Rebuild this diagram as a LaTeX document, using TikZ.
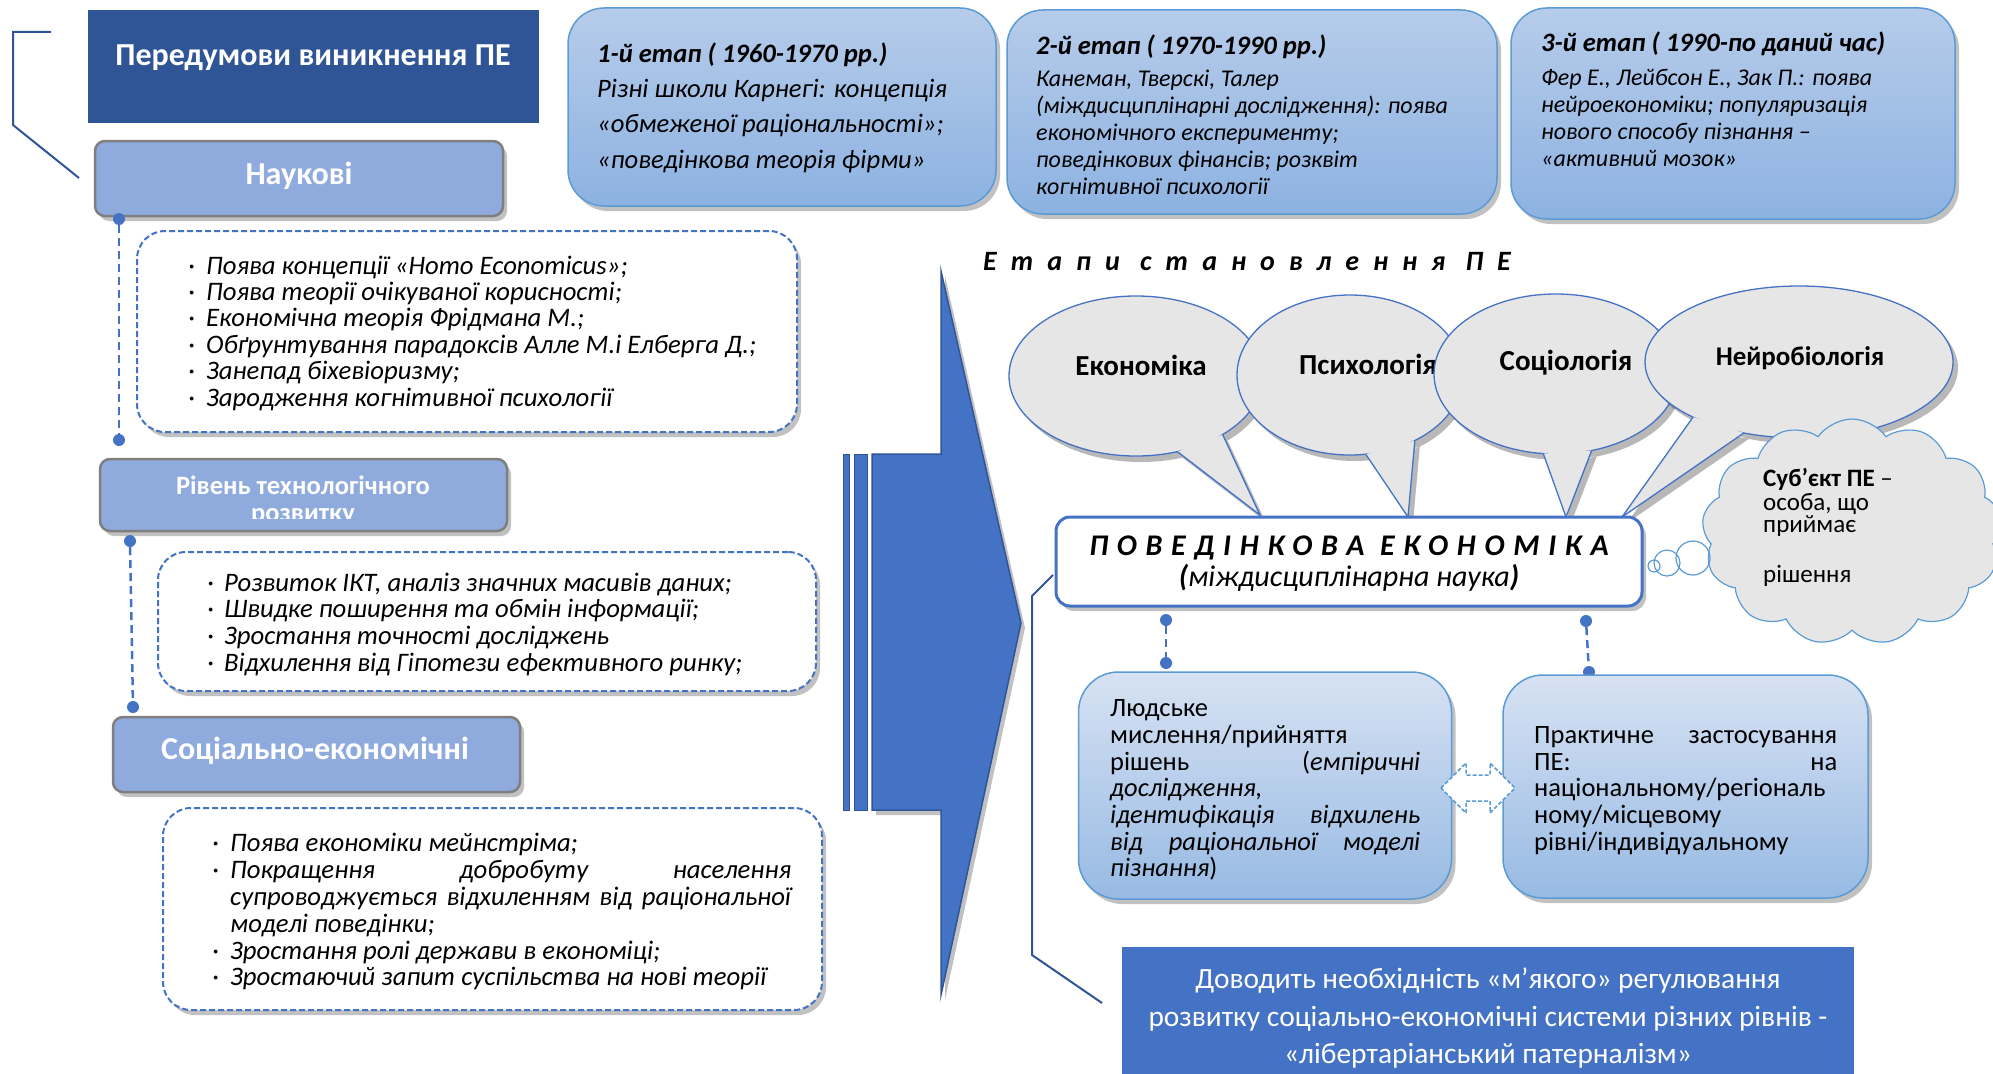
\documentclass[tikz,border=0pt]{standalone}
\usepackage{fontspec}
\setmainfont{Carlito}
\usetikzlibrary{shapes.symbols,shadows,calc}
\definecolor{dblue}{HTML}{2F5597}
\definecolor{mblue}{HTML}{4472C4}
\definecolor{catfill}{HTML}{8FAADC}
\definecolor{catline}{HTML}{7F7F7F}
\definecolor{sline}{HTML}{5B9BD5}
\definecolor{sttop}{HTML}{B6CCEA}
\definecolor{stbot}{HTML}{8DB2E1}
\definecolor{lotop}{HTML}{D7E2F3}
\definecolor{lobot}{HTML}{97BAE3}
\definecolor{bubfill}{HTML}{E7E6E6}
\newcommand\fs[2]{\fontsize{#1}{#2}\selectfont}
% speech bubble: cx cy rx ry a1 a2 tipx tipy
\newcommand\spbubble[8]{%
  \begin{scope}[shift={(5,6)}]
    \fill[black,opacity=.28] (#1,#2) ellipse [x radius=#3, y radius=#4]
      ($(#1,#2)+(#5:#3 and #4)$) -- (#7,#8) -- ($(#1,#2)+(#6:#3 and #4)$) -- cycle;
  \end{scope}
  \fill[bubfill] (#1,#2) ellipse [x radius=#3, y radius=#4];
  \draw[mblue,line width=1.3pt] (#1,#2) ellipse [x radius=#3, y radius=#4];
  \fill[bubfill] ($(#1,#2)+(#5:#3 and #4)$) -- (#7,#8) -- ($(#1,#2)+(#6:#3 and #4)$) -- cycle;
  \draw[mblue,line width=1.3pt,line join=miter] ($(#1,#2)+(#5:#3 and #4)$) -- (#7,#8) -- ($(#1,#2)+(#6:#3 and #4)$);
}
\begin{document}
\begin{tikzpicture}[x=1pt,y=-1pt,
  shadowed/.style={drop shadow={shadow xshift=4pt,shadow yshift=-5pt,opacity=.35,fill=black!70}},
  catbox/.style={draw=catline,line width=2.5pt,fill=catfill,rounded corners=10pt,shadowed,inner sep=0},
  listbox/.style={draw=mblue,dash pattern=on 6pt off 3pt,line width=2pt,fill=white,rounded corners=28pt,shadowed,inner sep=0},
  stagebox/.style={draw=sline,line width=1.5pt,top color=sttop,bottom color=stbot,rounded corners=36pt,shadowed,inner sep=0},
  lowbox/.style={draw=sline,line width=1.5pt,top color=lotop,bottom color=lobot,rounded corners=40pt,shadowed,inner sep=0},
  listtxt/.style={font=\fs{26.7}{27}\itshape,anchor=base west,inner sep=0},
  cattxt/.style={font=\fs{32}{34}\bfseries,text=white,inner sep=0},
  sttitle/.style={font=\fs{26.6}{28}\bfseries\itshape,anchor=base west,inner sep=0},
  sttxt/.style={font=\fs{26.6}{28}\itshape,anchor=base west,inner sep=0},
  sttxtsm/.style={font=\fs{24}{26}\itshape,anchor=base west,inner sep=0},
  bubtxt/.style={font=\fs{29}{31}\bfseries,inner sep=0},
  lowtxt/.style={font=\fs{26.5}{27}\selectfont,anchor=base west,inner sep=0},
  cltxt/.style={font=\fs{25}{27},anchor=base west,inner sep=0},
  bottxt/.style={font=\fs{29.4}{31},text=white,anchor=base,inner sep=0},
  dot/.style={circle,fill=mblue,inner sep=0,minimum size=12pt},
  conn/.style={mblue,line width=2.5pt,dash pattern=on 8pt off 5pt},
  brk/.style={dblue,line width=2pt}
]
\useasboundingbox (0,0) rectangle (1993,1073);

% ---------- top-left title and bracket
\coordinate (b1) at (51,32);
\coordinate (b2) at (13,32);
\coordinate (b3) at (13,125);
\coordinate (b4) at (79,178);
\draw[brk] (b1) -- (b2) -- (b3) -- (b4);
\node[fill=dblue,minimum width=451pt,minimum height=113pt,inner sep=0] (title) at (313.5,66.5) {};
\node[font=\fs{32}{34}\bfseries,text=white,inner sep=0] (titletxt) at (313,58) {Передумови виникнення ПЕ};

% ---------- category 1
\node[catbox,minimum width=408pt,minimum height=75pt] (cat1) at (299,178.5) {};
\node[cattxt] (cat1t) at (299,176) {Наукові};
\node[listbox,minimum width=660pt,minimum height=201pt] (list1) at (467,331.5) {};
\foreach \t [count=\i] in {{Поява концепції «Homo Economicus»;},{Поява теорії очікуваної корисності;},{Економічна теорія Фрідмана М.;},{Обґрунтування парадоксів Алле М.і Елберга Д.;},{Занепад біхевіоризму;},{Зародження когнітивної психології}}{
  \node[listtxt] (la\i) at (206,{274+26.4*(\i-1)}) {\t};
  \node[listtxt] (lab\i) at (188,{274+26.4*(\i-1)}) {·};
}
\node[dot] (dA1) at (119,219) {};
\node[dot] (dA2) at (119,440) {};
\draw[conn] (dA1) -- (dA2);

% ---------- category 2
\node[catbox,minimum width=407pt,minimum height=72pt] (cat2) at (303.5,495) {};
\begin{scope}
  \clip (103,462) rectangle (504,518);
  \node[font=\fs{26.5}{28}\bfseries,text=white,anchor=base,inner sep=0] (cat2t) at (303,494) {Рівень технологічного};
  \node[font=\fs{26.5}{28}\bfseries,text=white,anchor=base,inner sep=0] (cat2u) at (303,521) {розвитку};
\end{scope}
\node[listbox,minimum width=658pt,minimum height=139pt] (list2) at (487,621.5) {};
\foreach \t [count=\i] in {{Розвиток ІКТ, аналіз значних масивів даних;},{Швидке поширення та обмін інформації;},{Зростання точності досліджень},{Відхилення від Гіпотези ефективного ринку;}}{
  \node[listtxt] (lb\i) at (224,{591+26.7*(\i-1)}) {\t};
  \node[listtxt] (lbb\i) at (207,{591+26.7*(\i-1)}) {·};
}
\node[dot] (dB1) at (130,541) {};
\node[dot] (dB2) at (133,707) {};
\draw[conn] (dB1) -- (dB2);

% ---------- category 3
\node[catbox,minimum width=407pt,minimum height=75pt] (cat3) at (316.5,754.5) {};
\node[cattxt] (cat3t) at (315,751) {Соціально-економічні};
\node[listbox,minimum width=659pt,minimum height=202pt] (list3) at (492.5,909) {};
\node[listtxt] (lc1) at (230,851) {Поява економіки мейнстріма;};
\node[listtxt] (lc2) at (230,878) {\hbox to 561pt{Покращення\hfill добробуту\hfill населення}};
\node[listtxt] (lc3) at (230,905) {\hbox to 561pt{супроводжується\hfill відхиленням\hfill від\hfill раціональної}};
\node[listtxt] (lc4) at (230,932) {моделі поведінки;};
\node[listtxt] (lc5) at (230,959) {Зростання ролі держави в економіці;};
\node[listtxt] (lc6) at (230,985) {Зростаючий запит суспільства на нові теорії};
\foreach \y [count=\i] in {851,878,959,985}{
  \node[listtxt] (lcb\i) at (212,\y) {·};
}

% ---------- big arrow
\fill[mblue,draw=dblue,line width=1.5pt,shadowed] (872,454) -- (941,454) -- (941,271) -- (1021,623) -- (941,995) -- (941,810) -- (872,810) -- cycle;
\filldraw[mblue,draw=dblue,line width=1pt] (843,454) rectangle (849,810);
\filldraw[mblue,draw=dblue,line width=1pt] (854,454) rectangle (867,810);

% ---------- stage boxes
\node[stagebox,minimum width=428pt,minimum height=198pt] (st1) at (782,107) {};
\node[sttitle] (st1t) at (597,63) {1-й етап ( 1960-1970 рр.)};
\foreach \t [count=\i] in {{Різні школи Карнегі: концепція},{«обмеженої раціональності»;},{«поведінкова теорія фірми»}}{
  \node[sttxt] (st1l\i) at (597,{97+35.5*(\i-1)}) {\t};
}
\node[stagebox,minimum width=490pt,minimum height=204pt] (st2) at (1252,112) {};
\node[sttitle] (st2t) at (1036,55) {2-й етап ( 1970-1990 рр.)};
\foreach \t [count=\i] in {{Канеман, Тверскі, Талер},{(міждисциплінарні дослідження): поява},{економічного експерименту;},{поведінкових фінансів; розквіт},{когнітивної психології}}{
  \node[sttxtsm] (st2l\i) at (1036,{86+27*(\i-1)}) {\t};
}
\node[stagebox,minimum width=444pt,minimum height=211pt] (st3) at (1733,113.5) {};
\node[sttitle] (st3t) at (1541,52) {3-й етап ( 1990-по даний час)};
\foreach \t [count=\i] in {{Фер Е., Лейбсон Е., Зак П.: поява},{нейроекономіки; популяризація},{нового способу пізнання –},{«активний мозок»}}{
  \node[sttxtsm] (st3l\i) at (1541,{85+27*(\i-1)}) {\t};
}

% ---------- heading
\node[font=\fs{28}{30}\bfseries\itshape\addfontfeature{LetterSpace=50},anchor=base west,inner sep=0] (etapy) at (983,270) {Етапи становлення ПЕ};

% ---------- speech bubbles
\spbubble{1136}{376}{127}{80}{71}{47}{1260}{515}
\node[bubtxt] (bub1) at (1141,365) {Економіка};
\spbubble{1350}{375}{113}{80}{82}{55}{1408}{517}
\node[bubtxt] (bub2) at (1368,364) {Психологія};
\spbubble{1556}{374}{122}{80}{96}{73}{1566}{517}
\node[bubtxt] (bub3) at (1566,363) {Соціологія};
\spbubble{1799}{362}{154}{76}{133.5}{111}{1622}{517}
\node[bubtxt,font=\fs{27}{29}\bfseries] (bub4) at (1800,358) {Нейробіологія};

% ---------- thought cloud
\node[cloud,cloud puffs=13,cloud puff arc=110,aspect=1.35,draw=sline,line width=1.2pt,fill=bubfill,minimum width=300pt,minimum height=226pt,inner sep=0] (cloud) at (1852,532) {};
\node[circle,draw=sline,line width=1.2pt,minimum size=34pt,inner sep=0] (tc1) at (1693,558) {};
\node[circle,draw=sline,line width=1.2pt,minimum size=26pt,inner sep=0] (tc2) at (1667,563) {};
\node[circle,draw=sline,line width=1.2pt,minimum size=12pt,inner sep=0] (tc3) at (1654,566) {};
\node[cltxt] (cl1) at (1763,486) {\textbf{Суб’єкт ПЕ} –};
\node[cltxt] (cl2) at (1763,510) {особа, що};
\node[cltxt] (cl3) at (1763,532) {приймає};
\node[cltxt] (cl4) at (1763,582) {рішення};

% ---------- central box
\node[draw=mblue,line width=3pt,fill=white,rounded corners=14pt,minimum width=586pt,minimum height=89pt,inner sep=0,shadowed] (pe) at (1349,561.5) {};
\node[font=\fs{30}{32}\bfseries\itshape\addfontfeature{LetterSpace=29},anchor=base,inner sep=0] (pe1) at (1349,555) {ПОВЕДІНКОВА ЕКОНОМІКА};
\node[font=\fs{30}{32}\itshape,anchor=base,inner sep=0] (pe2) at (1349,586) {\textbf{(}міждисциплінарна наука\textbf{)}};

% ---------- connectors under central box
\node[dot] (dC1) at (1166,620) {};
\node[dot] (dC2) at (1166,663) {};
\draw[conn] (dC1) -- (dC2);
\node[dot] (dD1) at (1586,621) {};
\node[dot] (dD2) at (1589,672) {};
\draw[conn] (dD1) -- (dD2);

% ---------- lower boxes
\node[lowbox,minimum width=373pt,minimum height=227pt] (low1) at (1265,785.5) {};
\node[lowtxt] (lw1) at (1110,716) {Людське};
\node[lowtxt] (lw2) at (1110,743) {мислення/прийняття};
\node[lowtxt] (lw3) at (1110,770) {\hbox to 310pt{рішень\hfill(\textit{емпіричні}}};
\node[lowtxt] (lw4) at (1110,796) {\textit{дослідження,}};
\node[lowtxt] (lw5) at (1110,823) {\hbox to 310pt{\itshape ідентифікація\hfill відхилень}};
\node[lowtxt] (lw6) at (1110,850) {\hbox to 310pt{\itshape від\hfill раціональної\hfill моделі}};
\node[lowtxt] (lw7) at (1110,876) {\textit{пізнання})};

\node[lowbox,minimum width=365pt,minimum height=223pt] (low2) at (1685.5,786.5) {};
\node[lowtxt] (rw1) at (1534,743) {\hbox to 303pt{Практичне\hfill застосування}};
\node[lowtxt] (rw2) at (1534,770) {\hbox to 303pt{ПЕ:\hfill на}};
\node[lowtxt] (rw3) at (1534,796) {національному/регіональ};
\node[lowtxt] (rw4) at (1534,823) {ному/місцевому};
\node[lowtxt] (rw5) at (1534,850) {рівні/індивідуальному};

% double arrow
\filldraw[fill=white,draw=sline,line width=1.5pt,dash pattern=on 4pt off 2pt] (1441,788) -- (1466,763) -- (1466,775) -- (1490,775) -- (1490,763) -- (1515,788) -- (1490,813) -- (1490,801) -- (1466,801) -- (1466,813) -- cycle;

% ---------- bracket to bottom box
\coordinate (c1) at (1053,575);
\coordinate (c2) at (1032,596);
\coordinate (c3) at (1032,955);
\coordinate (c4) at (1102,1003);
\draw[brk] (c1) -- (c2) -- (c3) -- (c4);

% ---------- bottom box
\node[fill=mblue,minimum width=732pt,minimum height=140pt,inner sep=0,anchor=north west] (bottom) at (1122,947) {};
\node[bottxt] (bt1) at (1488,988) {Доводить необхідність «м’якого» регулювання};
\node[bottxt] (bt2) at (1488,1026) {розвитку соціально-економічні системи різних рівнів -};
\node[bottxt] (bt3) at (1488,1063) {«лібертаріанський патерналізм»};
\end{tikzpicture}
\end{document}
